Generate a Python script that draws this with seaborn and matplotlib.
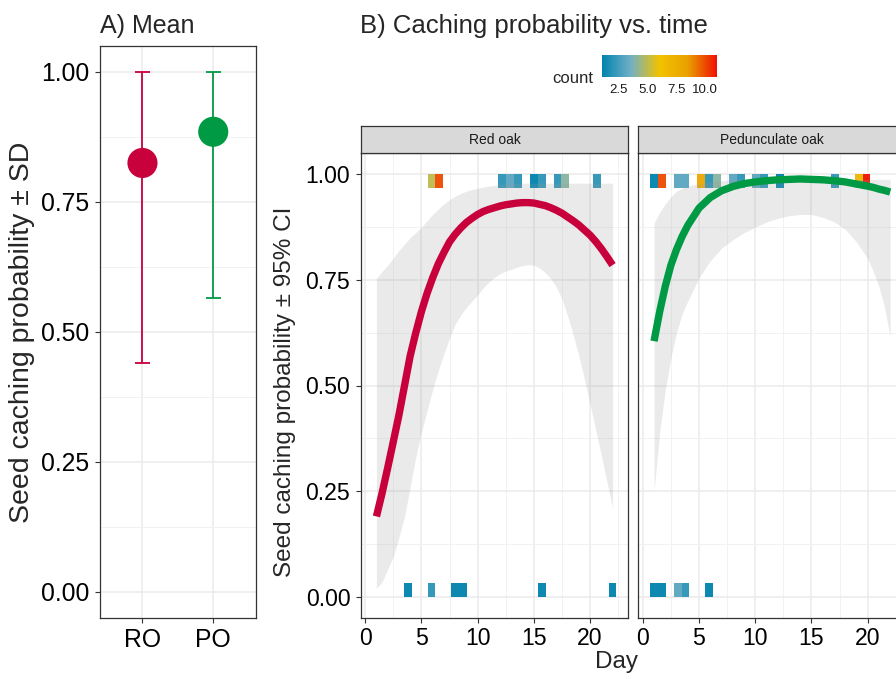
"""Caching probability: mean per species (A) and fitted probability over time (B)."""

import matplotlib
matplotlib.use("Agg")
import matplotlib.pyplot as plt
from matplotlib.cm import ScalarMappable
from matplotlib.colors import LinearSegmentedColormap, Normalize
import seaborn as sns

W, H = 896, 679

RED = "#C8003C"
GREEN = "#009A44"

# Panel A: mean caching probability +/- SD
species = ["RO", "PO"]
mean_prob = [0.825, 0.885]
sd_low = [0.44, 0.565]
sd_high = [1.0, 1.0]

# Panel B: fitted curve and 95% CI, red oak (read every half day)
red_days = [1, 1.5, 2, 2.5, 3, 3.5, 4, 4.5, 5, 5.5, 6, 6.5, 7, 7.5, 8, 8.5, 9, 9.5,
            10, 10.5, 11, 11.5, 12, 12.5, 13, 13.5, 14, 14.5, 15, 15.5, 16, 16.5,
            17, 17.5, 18, 18.5, 19, 19.5, 20, 20.5, 21, 21.5, 22]
red_fit = [0.19, 0.245, 0.305, 0.367, 0.43, 0.50, 0.57, 0.625, 0.675, 0.718, 0.755,
           0.788, 0.815, 0.84, 0.858, 0.873, 0.886, 0.896, 0.905, 0.912, 0.917, 0.921,
           0.925, 0.928, 0.930, 0.932, 0.933, 0.933, 0.932, 0.929, 0.926, 0.921,
           0.915, 0.908, 0.899, 0.890, 0.880, 0.868, 0.856, 0.841, 0.824, 0.805, 0.785]
red_lo = [0.02, 0.035, 0.065, 0.095, 0.14, 0.19, 0.26, 0.33, 0.39, 0.44, 0.49, 0.535,
          0.575, 0.612, 0.645, 0.667, 0.685, 0.70, 0.715, 0.731, 0.745, 0.756, 0.765,
          0.771, 0.775, 0.78, 0.784, 0.786, 0.785, 0.778, 0.768, 0.753, 0.733, 0.705,
          0.665, 0.62, 0.57, 0.515, 0.455, 0.395, 0.335, 0.272, 0.21]
red_hi = [0.754, 0.77, 0.785, 0.802, 0.82, 0.835, 0.85, 0.862, 0.875, 0.89, 0.905,
          0.918, 0.93, 0.94, 0.948, 0.955, 0.96, 0.964, 0.967, 0.97, 0.972, 0.974,
          0.976, 0.977, 0.978, 0.978, 0.979, 0.979, 0.979, 0.979, 0.979, 0.979, 0.979,
          0.979, 0.979, 0.979, 0.979, 0.979, 0.979, 0.979, 0.979, 0.979, 0.979]

# Panel B: fitted curve and 95% CI, pedunculate oak
ped_days = [1, 1.5, 2, 2.5, 3, 3.5, 4, 5, 6, 7, 8, 9, 10, 11, 12, 13, 14, 15, 16, 17,
            18, 19, 20, 20.5, 21, 21.5, 22]
ped_fit = [0.605, 0.675, 0.735, 0.785, 0.822, 0.853, 0.879, 0.92, 0.945, 0.961, 0.971,
           0.978, 0.982, 0.985, 0.987, 0.988, 0.989, 0.988, 0.987, 0.985, 0.982, 0.977,
           0.972, 0.969, 0.965, 0.962, 0.958]
ped_lo = [0.25, 0.39, 0.49, 0.565, 0.625, 0.67, 0.70, 0.755, 0.795, 0.825, 0.845, 0.862,
          0.875, 0.887, 0.896, 0.902, 0.905, 0.905, 0.898, 0.888, 0.87, 0.84, 0.80,
          0.77, 0.734, 0.685, 0.615]
ped_hi = [0.884, 0.91, 0.93, 0.947, 0.96, 0.967, 0.972, 0.978, 0.982, 0.985, 0.987,
          0.988, 0.988, 0.988, 0.988, 0.988, 0.988, 0.988, 0.988, 0.988, 0.988, 0.988,
          0.988, 0.988, 0.988, 0.988, 0.988]

# Binned observations (day bin centre, outcome, count)
red_tile_day = [5.9, 6.6, 12.2, 12.9, 13.6, 15.0, 15.7, 17.1, 17.8, 20.6,
                3.8, 5.9, 8.0, 8.7, 15.7, 22.0]
red_tile_y = [1, 1, 1, 1, 1, 1, 1, 1, 1, 1, 0, 0, 0, 0, 0, 0]
red_tile_n = [5, 10, 2, 3, 2, 1, 2, 2, 4, 2, 1, 2, 1, 1, 1, 1]

ped_tile_day = [1.0, 1.7, 3.1, 3.8, 5.2, 5.9, 6.6, 8.0, 8.7, 10.1, 10.8, 12.2, 17.1,
                19.2, 19.9, 1.0, 1.7, 3.1, 3.8, 5.9]
ped_tile_y = [1, 1, 1, 1, 1, 1, 1, 1, 1, 1, 1, 1, 1, 1, 1, 0, 0, 0, 0, 0]
ped_tile_n = [1, 10, 3, 3, 8, 2, 4, 3, 2, 3, 2, 1, 2, 7, 11, 1, 1, 3, 2, 1]

count_ticks = [2.5, 5.0, 7.5, 10.0]

sns.set_theme(style="white")
plt.rcParams["font.family"] = ["Liberation Sans", "DejaVu Sans"]

cmap = LinearSegmentedColormap.from_list(
    "zissou", ["#0083AD", "#6FAFC6", "#F2C300", "#E9A000", "#F01200"])
norm = Normalize(vmin=1, vmax=11)

fig = plt.figure(figsize=(W / 100, H / 100), dpi=100)


def px_axes(left, top, right, bottom):
    return fig.add_axes([left / W, 1 - bottom / H, (right - left) / W, (bottom - top) / H])


def style_panel(ax, labelsize):
    ax.set_facecolor("white")
    for s in ax.spines.values():
        s.set_visible(True)
        s.set_color("#333333")
        s.set_linewidth(0.9)
    ax.grid(which="major", color="#ebebeb", linewidth=1.1)
    ax.grid(which="minor", color="#f2f2f2", linewidth=0.7)
    ax.set_axisbelow(True)
    ax.tick_params(which="major", length=3.5, width=0.8, color="#333333",
                   labelsize=labelsize, labelcolor="black", pad=4,
                   left=True, bottom=True)
    ax.tick_params(which="minor", length=0)
    ax.set_xlabel("")
    ax.set_ylabel("")


# ---- Panel A ----
axA = px_axes(100, 46, 255.7, 617.8)
for i, (m, lo, hi, col) in enumerate(zip(mean_prob, sd_low, sd_high, [RED, GREEN])):
    axA.errorbar(i, m, yerr=[[m - lo], [hi - m]], color=col, elinewidth=1.3,
                 capsize=5.4, capthick=1.3, fmt="none", zorder=2)
sns.scatterplot(x=species, y=mean_prob, hue=species, palette=[RED, GREEN], s=470,
                linewidth=0, legend=False, ax=axA, zorder=3)
axA.set_xlim(-0.6, 1.6)
axA.set_ylim(-0.05, 1.05)
axA.set_yticks([0, 0.25, 0.5, 0.75, 1.0])
axA.set_yticklabels(["0.00", "0.25", "0.50", "0.75", "1.00"])
axA.set_yticks([0.125, 0.375, 0.625, 0.875], minor=True)
axA.set_xticks([0, 1])
axA.set_xticklabels(species)
style_panel(axA, 17.8)

# ---- Panel B ----
panels = [
    ("Red oak", 360.7, RED, red_days, red_fit, red_lo, red_hi,
     red_tile_day, red_tile_y, red_tile_n),
    ("Pedunculate oak", 638.3, GREEN, ped_days, ped_fit, ped_lo, ped_hi,
     ped_tile_day, ped_tile_y, ped_tile_n),
]
pw = 267.6
for j, (name, left, col, days, fit, lo, hi, tday, ty, tn) in enumerate(panels):
    ax = px_axes(left, 153.2, left + pw, 617.8)
    bottoms = [1 - 1 / 30 if y == 1 else 0 for y in ty]
    ax.bar(tday, [1 / 30] * len(tday), bottom=bottoms, width=0.7,
           color=[cmap(norm(n)) for n in tn], alpha=0.95, linewidth=0, zorder=1)
    ax.fill_between(days, lo, hi, color="#999999", alpha=0.2, linewidth=0, zorder=2)
    sns.lineplot(x=days, y=fit, ax=ax, color=col, linewidth=5.3, sort=False,
                 solid_capstyle="butt", zorder=3)
    ax.set_xlim(-0.4, 23.4)
    ax.set_ylim(-0.05, 1.05)
    ax.set_xticks([0, 5, 10, 15, 20])
    ax.set_xticks([2.5, 7.5, 12.5, 17.5, 22.5], minor=True)
    ax.set_yticks([0, 0.25, 0.5, 0.75, 1.0])
    ax.set_yticks([0.125, 0.375, 0.625, 0.875], minor=True)
    ax.set_yticklabels(["0.00", "0.25", "0.50", "0.75", "1.00"])
    style_panel(ax, 16.6)
    ax.tick_params(axis="x", pad=3)
    if j == 1:
        ax.tick_params(left=False, labelleft=False)

    # facet strip
    sax = px_axes(left, 126.2, left + pw, 153.2)
    sax.set_facecolor("#d9d9d9")
    sax.set_xticks([])
    sax.set_yticks([])
    for s in sax.spines.values():
        s.set_visible(True)
        s.set_color("#333333")
        s.set_linewidth(0.9)
    sax.text(0.5, 0.5, name, ha="center", va="center", fontsize=10,
             color="#1a1a1a", transform=sax.transAxes)

# colour bar legend
cax = px_axes(601.7, 55, 716.7, 77.3)
cb = fig.colorbar(ScalarMappable(norm=norm, cmap=cmap), cax=cax, orientation="horizontal")
cb.set_ticks(count_ticks)
cb.ax.set_xticklabels([f"{t:.1f}" for t in count_ticks])
cb.outline.set_visible(False)
cax.tick_params(direction="in", length=4.5, width=0.8, color="white", top=True,
                bottom=True, labelsize=9.5, labelcolor="#1a1a1a", pad=5)
fig.text(593 / W, 1 - 83.3 / H, "count", ha="right", va="baseline", fontsize=12)

# titles and axis labels
fig.text(100 / W, 1 - 33 / H, "A) Mean", ha="left", va="baseline", fontsize=18)
fig.text(360 / W, 1 - 33 / H, "B) Caching probability vs. time", ha="left",
         va="baseline", fontsize=18.5)
fig.text(22 / W, 1 - 332 / H, "Seed caching probability ± SD", rotation=90,
         ha="center", va="center", fontsize=20.5)
fig.text(285 / W, 1 - 392 / H, "Seed caching probability ± 95% CI", rotation=90,
         ha="center", va="center", fontsize=17.5)
fig.text(616 / W, 1 - 662 / H, "Day", ha="center", va="center", fontsize=17.5)

fig.savefig("out.png", dpi=100)
